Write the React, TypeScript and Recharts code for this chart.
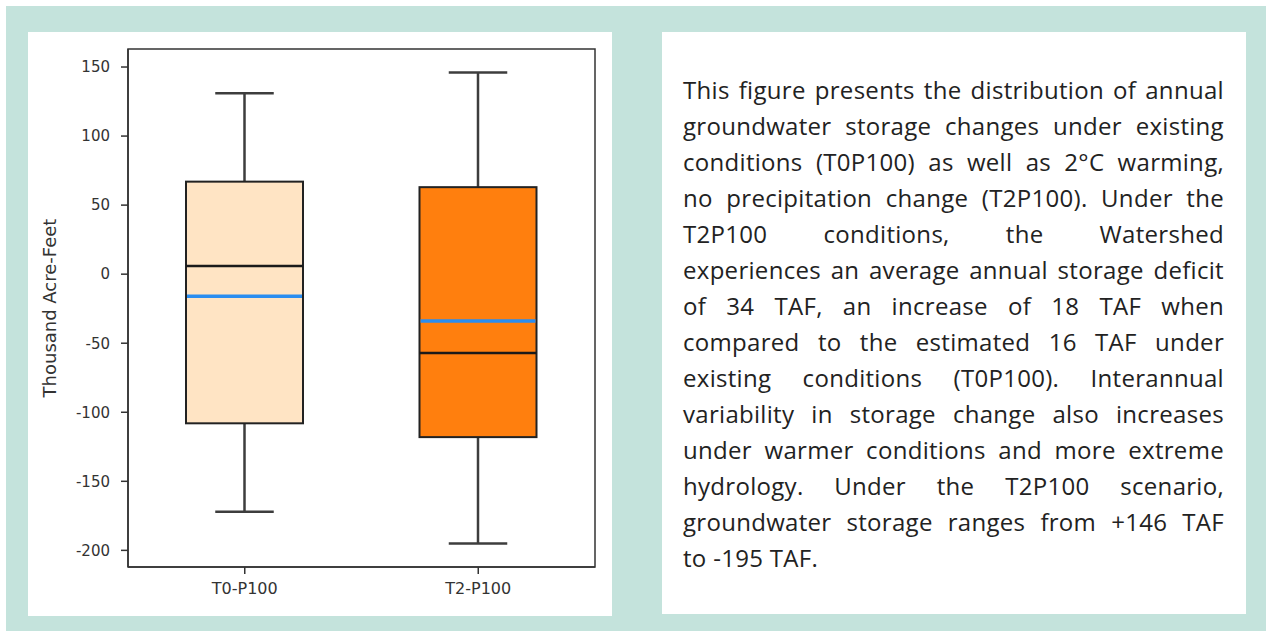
import React from 'react';
import { ComposedChart, Bar, XAxis, YAxis, ReferenceArea } from 'recharts';

// ---- data ----
const categories = ['T0-P100', 'T2-P100'];
const whiskerLow = [-172, -195];
const q1 = [-108, -118];
const median = [6, -57];
const mean = [-16, -34];
const q3 = [67, 63];
const whiskerHigh = [131, 146];
const boxFills = ['#FFE4C4', '#FF7F0E'];
const yTicks = [-200, -150, -100, -50, 0, 50, 100, 150];
const yDomain = [-212.05, 163.05];

const textLines = [
  'This figure presents the distribution of annual',
  'groundwater storage changes under existing',
  'conditions (T0P100) as well as 2°C warming,',
  'no precipitation change (T2P100). Under the',
  'T2P100 conditions, the Watershed',
  'experiences an average annual storage deficit',
  'of 34 TAF, an increase of 18 TAF when',
  'compared to the estimated 16 TAF under',
  'existing conditions (T0P100). Interannual',
  'variability in storage change also increases',
  'under warmer conditions and more extreme',
  'hydrology. Under the T2P100 scenario,',
  'groundwater storage ranges from +146 TAF',
  'to -195 TAF.',
];

const data = categories.map((name, i) => ({
  name,
  range: [whiskerLow[i], whiskerHigh[i]],
  low: whiskerLow[i],
  q1: q1[i],
  median: median[i],
  mean: mean[i],
  q3: q3[i],
  high: whiskerHigh[i],
  fill: boxFills[i],
}));

const BoxShape = (props: any) => {
  const { x, y, width, height, payload } = props;
  if (payload == null || x == null) return null;
  const top = Math.min(y, y + height);
  const bottom = Math.max(y, y + height);
  const span = payload.high - payload.low;
  const pv = (v: number) => top + ((payload.high - v) / span) * (bottom - top);
  const cx = x + width / 2;
  const capHalf = width / 4;
  const yHigh = pv(payload.high);
  const yLow = pv(payload.low);
  const yQ3 = pv(payload.q3);
  const yQ1 = pv(payload.q1);
  const yMed = pv(payload.median);
  const yMean = pv(payload.mean);
  const wc = '#3d3d3d';
  return (
    <g>
      <line x1={cx} x2={cx} y1={yHigh} y2={yQ3} stroke={wc} strokeWidth={2.5} />
      <line x1={cx} x2={cx} y1={yQ1} y2={yLow} stroke={wc} strokeWidth={2.5} />
      <line x1={cx - capHalf} x2={cx + capHalf} y1={yHigh} y2={yHigh} stroke={wc} strokeWidth={2.5} />
      <line x1={cx - capHalf} x2={cx + capHalf} y1={yLow} y2={yLow} stroke={wc} strokeWidth={2.5} />
      <rect x={x} y={yQ3} width={width} height={yQ1 - yQ3} fill={payload.fill} stroke="#222" strokeWidth={2} />
      <line x1={x} x2={x + width} y1={yMed} y2={yMed} stroke="#1a1a1a" strokeWidth={2.5} />
      <line x1={x + 1} x2={x + width - 1} y1={yMean} y2={yMean} stroke="#2a8df0" strokeWidth={3.5} />
    </g>
  );
};

const yTickStyle = { fontFamily: 'DejaVu Sans', fontSize: 15, fill: '#333' };
const xTickStyle = { fontFamily: 'DejaVu Sans', fontSize: 16, fill: '#333' };

export default function App() {
  return (
    <div style={{ position: 'absolute', left: 0, top: 0, width: 1266, height: 631, background: '#ffffff', overflow: 'hidden' }}>
      <div style={{ position: 'absolute', left: 6, top: 6, width: 1260, height: 625, background: '#c4e3dc' }} />
      <div style={{ position: 'absolute', left: 28, top: 32, width: 584, height: 584, background: '#ffffff' }}>
        <ComposedChart
          width={584}
          height={584}
          data={data}
          margin={{ top: 17, right: 17, bottom: 9, left: 0 }}
        >
          <XAxis
            dataKey="name"
            type="category"
            height={40}
            tickSize={7}
            tickMargin={9}
            tick={xTickStyle}
            axisLine={{ stroke: '#333', strokeWidth: 1.5 }}
            tickLine={{ stroke: '#333', strokeWidth: 1.5 }}
          />
          <YAxis
            type="number"
            domain={yDomain}
            ticks={yTicks}
            allowDataOverflow
            width={100}
            tickSize={7}
            tickMargin={11}
            tick={yTickStyle}
            axisLine={{ stroke: '#333', strokeWidth: 1.5 }}
            tickLine={{ stroke: '#333', strokeWidth: 1.5 }}
            label={{
              value: 'Thousand Acre-Feet',
              angle: -90,
              position: 'insideLeft',
              offset: 22,
              style: { textAnchor: 'middle', fontFamily: 'DejaVu Sans', fontSize: 18, fill: '#333' },
            }}
          />
          <ReferenceArea
            y1={yDomain[0]}
            y2={yDomain[1]}
            fill="none"
            fillOpacity={0}
            stroke="#333"
            strokeWidth={1.5}
            ifOverflow="visible"
          />
          <Bar dataKey="range" barSize={117} shape={BoxShape} isAnimationActive={false} />
        </ComposedChart>
      </div>
      <div
        style={{
          position: 'absolute',
          left: 662,
          top: 32,
          width: 584,
          height: 582,
          background: '#ffffff',
          fontFamily: '"Open Sans", sans-serif',
          fontSize: 24,
          letterSpacing: 0.3,
          color: '#222',
        }}
      >
        <div style={{ position: 'absolute', left: 21, top: 40, width: 541 }}>
          {textLines.map((line, i) =>
            i < textLines.length - 1 ? (
              <div key={i} style={{ display: 'flex', justifyContent: 'space-between', height: 36, lineHeight: '36px', whiteSpace: 'nowrap' }}>
                {line.split(' ').map((w, j) => (
                  <span key={j}>{w}</span>
                ))}
              </div>
            ) : (
              <div key={i} style={{ height: 36, lineHeight: '36px', whiteSpace: 'nowrap' }}>
                {line}
              </div>
            )
          )}
        </div>
      </div>
    </div>
  );
}
